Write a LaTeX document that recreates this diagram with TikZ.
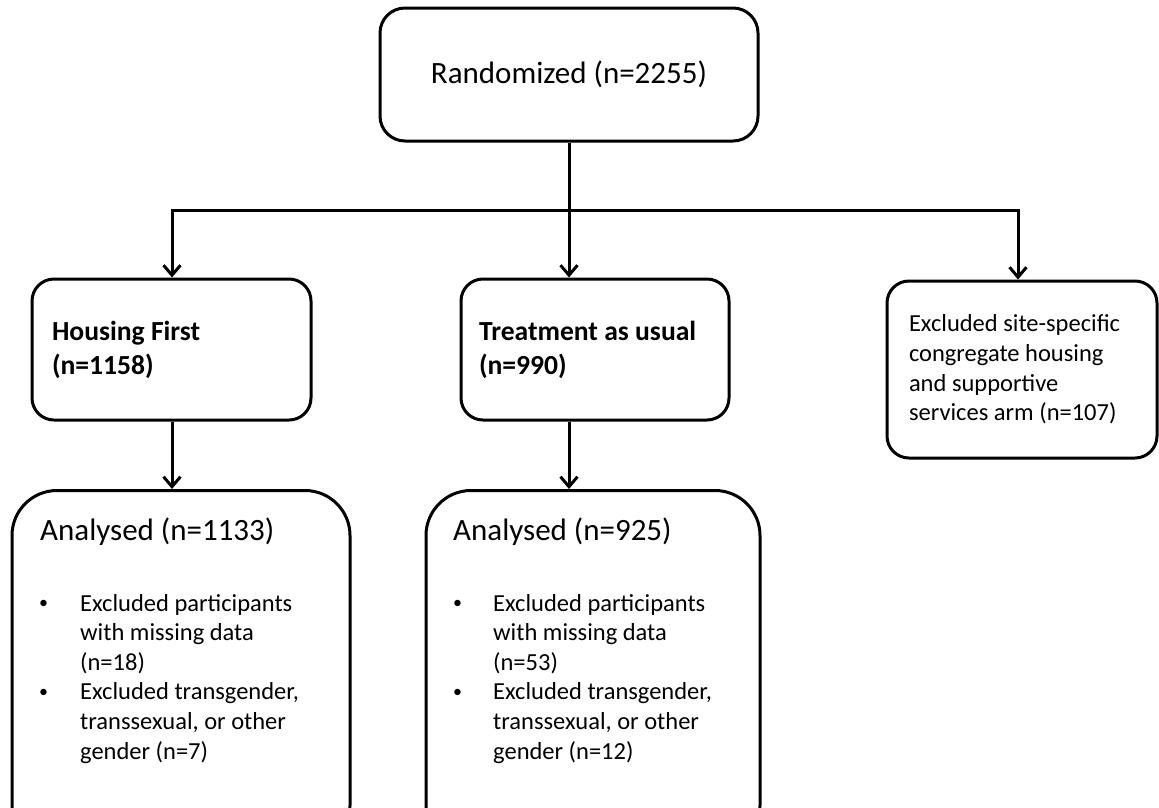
\documentclass[tikz,border=0pt]{standalone}
\usepackage{fontspec}
\setmainfont{Carlito}
\usetikzlibrary{arrows.meta}
\newcommand{\bul}{\raisebox{2.5pt}{\fontsize{18}{18}\selectfont •}}
\begin{document}
\begin{tikzpicture}[x=1pt,y=-1pt,
  box/.style={draw, line width=3pt, rounded corners=#1, inner ysep=0pt},
  box/.default=22pt,
  big/.style={font=\fontsize{31}{37}\selectfont},
  head/.style={font=\fontsize{27.6}{34}\selectfont\bfseries},
  small/.style={font=\fontsize{24.5}{29.6}\selectfont},
  conn/.style={line width=3pt, line cap=rect},
  arr/.style={line width=3pt, -{Straight Barb[length=10pt,width=17pt]}}]
\useasboundingbox (0,0) rectangle (1159,807);
\clip (0,0) rectangle (1159,807);
% boxes
\node[box=25pt, big, minimum width=378pt, minimum height=133pt] (top) at (569,74.5) {Randomized (n=2255)};
\node[box, head, minimum height=141pt, inner xsep=20pt, text width=239pt, align=flush left] (hf) at (171.5,349.5) {Housing First\\(n=1158)};
\node[box, head, minimum height=141pt, inner xsep=18pt, text width=232pt, align=flush left] (tau) at (595,349.5) {Treatment as usual\\(n=990)};
\node[box, small, minimum height=177pt, inner xsep=22pt, text width=226pt, align=flush left] (ex) at (1022,369.5) {Excluded site-specific\\congregate housing\\and supportive\\services arm (n=107)};
\node[box=45pt, minimum width=338pt, minimum height=360pt, anchor=north] (al) at (181,489) {};
\node[box=45pt, minimum width=334pt, minimum height=360pt, anchor=north] (ar) at (593,489) {};
% texts in the analysed boxes
\node[big, anchor=base west, inner sep=0pt] (alt) at (40,540) {Analysed (n=1133)};
\node[small, anchor=base west, inner sep=0pt] (alb) at (39,611) {\begin{tabular}[t]{@{}p{41pt}@{}l@{}}
\bul&Excluded participants\\ &with missing data\\ &(n=18)\\
\bul&Excluded transgender,\\ &transsexual, or other\\ &gender (n=7)\end{tabular}};
\node[big, anchor=base west, inner sep=0pt] (art) at (453,540) {Analysed (n=925)};
\node[small, anchor=base west, inner sep=0pt] (arb) at (453,611) {\begin{tabular}[t]{@{}p{40pt}@{}l@{}}
\bul&Excluded participants\\ &with missing data\\ &(n=53)\\
\bul&Excluded transgender,\\ &transsexual, or other\\ &gender (n=12)\end{tabular}};
% connectors
\coordinate (bl) at (172,210);
\coordinate (br) at (1018,210);
\draw[conn] (bl) -- (br);
\draw[arr] (top.south) -- (top.south |- tau.north);
\draw[arr] (bl) -- (bl |- hf.north);
\draw[arr] (br) -- (br |- ex.north);
\draw[arr] (bl |- hf.south) -- (bl |- al.north);
\draw[arr] (top.south |- tau.south) -- (top.south |- ar.north);
\end{tikzpicture}
\end{document}
